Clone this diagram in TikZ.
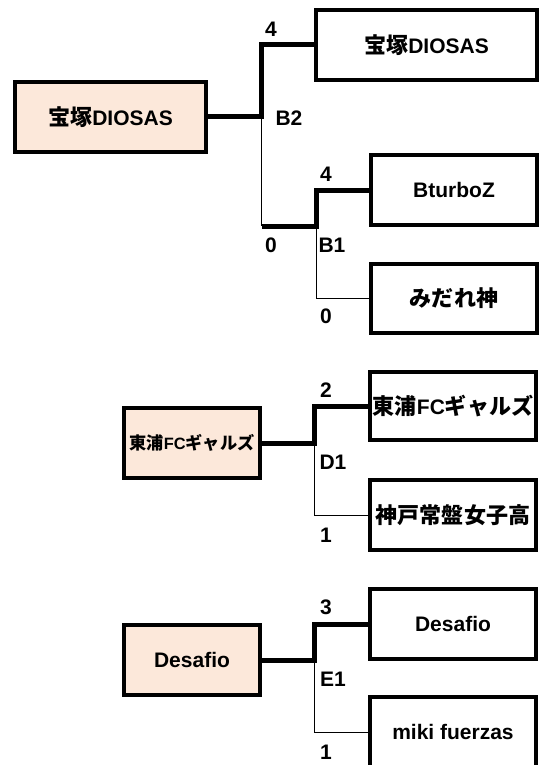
\documentclass[tikz,border=0pt]{standalone}
\usepackage{fontspec}
\setmainfont{Liberation Sans}
\newfontfamily\jp{Noto Sans CJK JP Bold}[Scale=1.05]
\usepackage{tikz}
\definecolor{peach}{RGB}{252,232,218}
\tikzset{
  team/.style={draw, line width=4pt, minimum width=166pt, minimum height=70pt,
    inner sep=0pt, font=\bfseries\fontsize{21}{21}\selectfont},
  champ/.style={team, fill=peach, minimum width=136pt},
  win/.style={line width=5pt},
  lose/.style={line width=1pt},
  score/.style={font=\bfseries\fontsize{21}{21}\selectfont, inner sep=0pt}
}

\begin{document}
\begin{tikzpicture}[x=1pt,y=-1pt]
\useasboundingbox (0,0) rectangle (544,765);

% B block
\node[champ, minimum width=191pt] (w1) at (110.5,117) {{\jp 宝塚}DIOSAS};
\node[team, minimum width=221pt] (t1) at (426.5,45) {{\jp 宝塚}DIOSAS};
\node[team] (bz) at (454,190) {BturboZ};
\node[team, minimum height=69pt] (md) at (454,298.5) {\jp みだれ神};
\coordinate (b2) at (261.5,117);
\coordinate (b1) at (316,226);
\draw[win] (w1.east) -- (b2) |- (t1.west);
\draw[lose] (b2) -- (b2 |- b1);
\draw[win] (b2 |- b1) -- (b1) |- (bz.west);
\draw[lose] (b1) |- (md.west);
\node[score] at (271,29) {4};
\node[score] at (289,118) {B2};
\node[score] at (271,245) {0};
\node[score] at (326,174) {4};
\node[score] at (332,245) {B1};
\node[score] at (326,316) {0};

% D block
\node[champ, font=\bfseries\fontsize{16.4}{16.4}\selectfont] (w2) at (192,443) {{\jp 東浦}FC{\jp ギャルズ}};
\node[team, minimum height=68pt] (t2) at (453,406) {{\jp 東浦}FC{\jp ギャルズ}};
\node[team] (kb) at (453,515) {\jp 神戸常盤女子高};
\coordinate (d1) at (314.5,443);
\draw[win] (w2.east) -- (d1) |- (t2.west);
\draw[lose] (d1) |- (kb.west);
\node[score] at (326,390) {2};
\node[score] at (333,462) {D1};
\node[score] at (326,535) {1};

% E block
\node[champ] (w3) at (192,660) {Desafio};
\node[team] (t3) at (453,624) {Desafio};
\node[team] (mf) at (453,732) {miki fuerzas};
\coordinate (e1) at (314.5,660);
\draw[win] (w3.east) -- (e1) |- (t3.west);
\draw[lose] (e1) |- (mf.west);
\node[score] at (326,607) {3};
\node[score] at (333,679) {E1};
\node[score] at (326,752) {1};

\end{tikzpicture}
\end{document}
